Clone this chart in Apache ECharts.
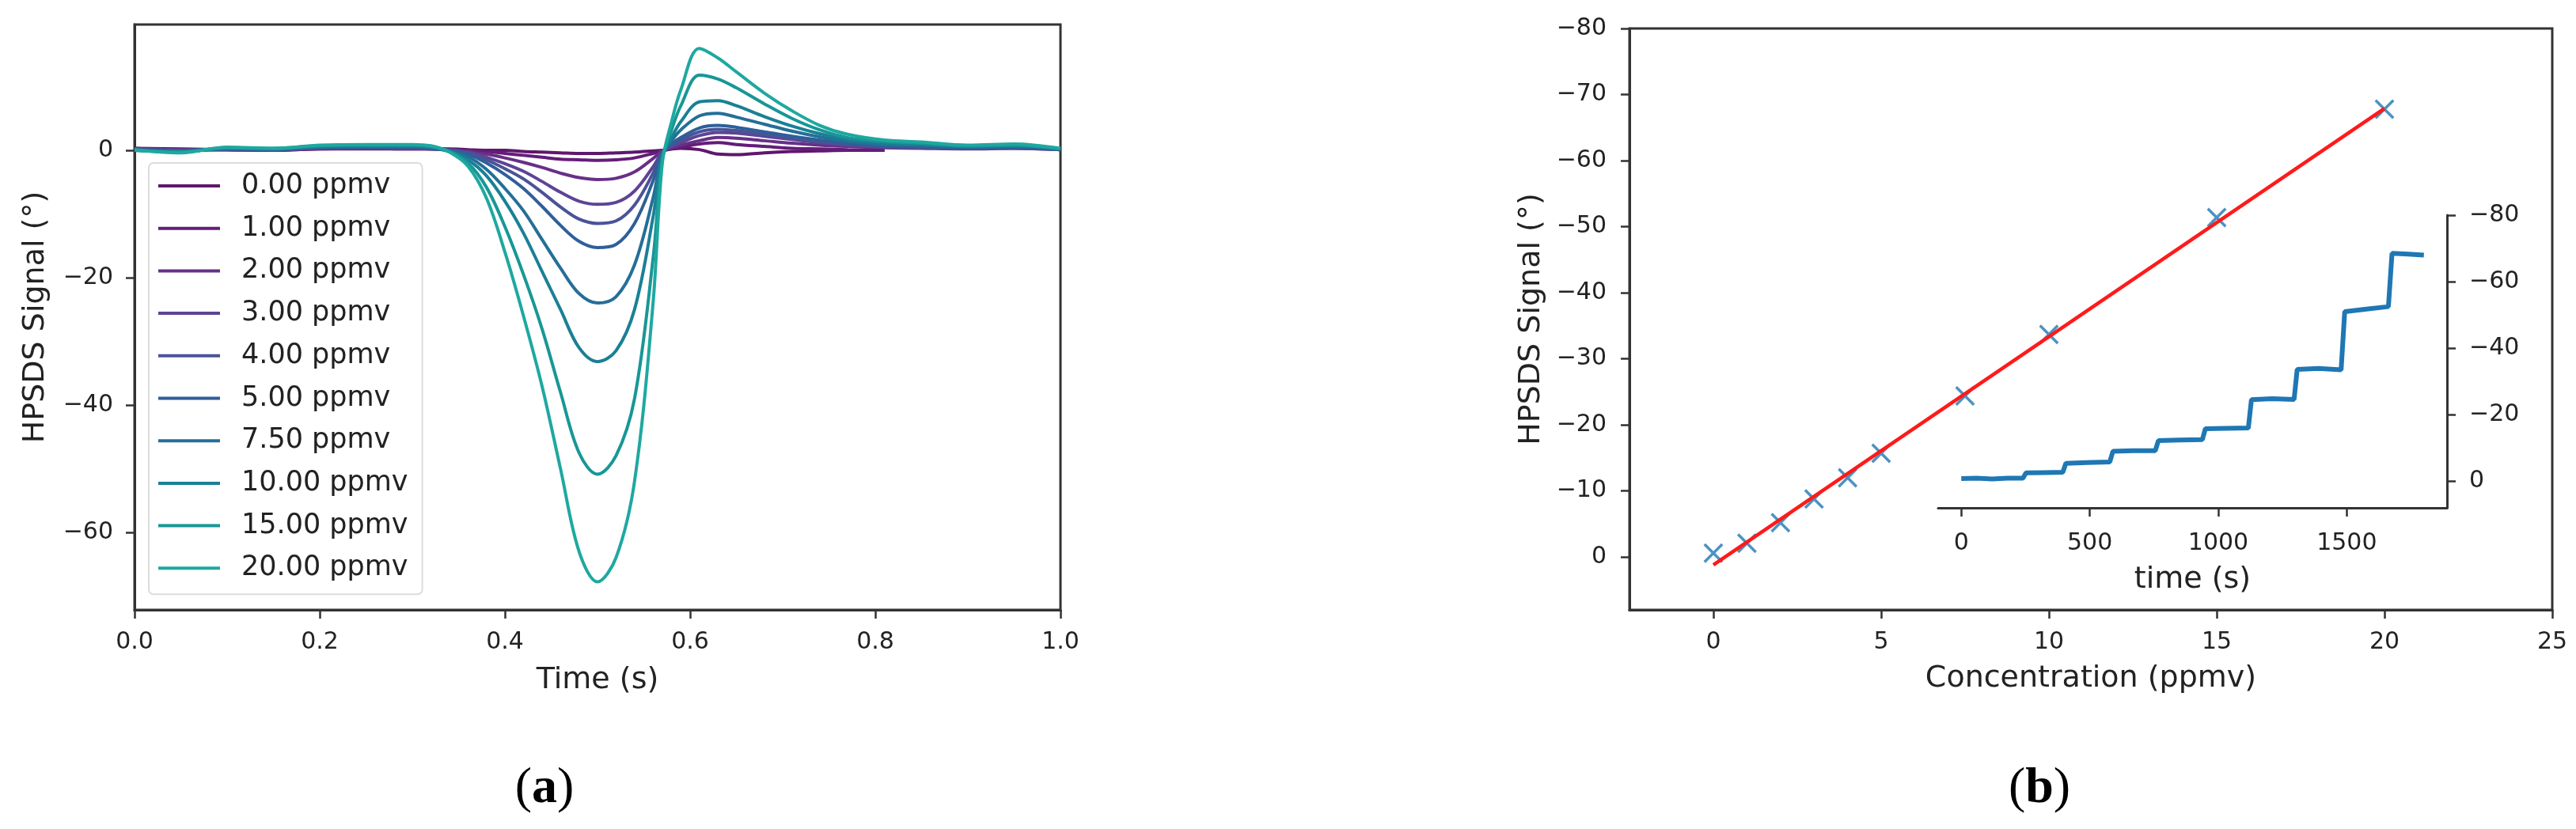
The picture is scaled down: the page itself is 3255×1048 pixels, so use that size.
<!DOCTYPE html>
<html>
<head>
<meta charset="utf-8">
<script src="https://cdn.jsdelivr.net/npm/echarts@6/dist/echarts.min.js"></script>
<style>
html,body{margin:0;padding:0;background:#fff;}
#c{width:3255px;height:1048px;}
</style>
</head>
<body>
<div id="c"></div>
<script>
// ---------- data: panel (a) ----------
const timeS = [0, 0.05, 0.1, 0.15, 0.2, 0.25, 0.3, 0.32, 0.34, 0.36, 0.38, 0.40, 0.42, 0.44, 0.46, 0.48, 0.50, 0.52, 0.54, 0.56, 0.57, 0.58, 0.59, 0.61, 0.63, 0.65, 0.68, 0.71, 0.74, 0.77, 0.81, 0.85, 0.9, 0.95, 1.0];
const seriesNames = ['0.00 ppmv','1.00 ppmv','2.00 ppmv','3.00 ppmv','4.00 ppmv','5.00 ppmv','7.50 ppmv','10.00 ppmv','15.00 ppmv','20.00 ppmv'];
const seriesColors = ['#5f176c','#641d78','#673087','#5d4495','#4a5398','#2f5f99','#246f98','#1a8095','#189796','#1ea8a0'];
const sig0  = [0.3, 0.2, 0.1, 0.0, 0.2, 0.2, 0.2, 0.2, 0.2, 0.1, 0, 0, -0.2, -0.3, -0.4, -0.5, -0.5, -0.4, -0.3, -0.1, 0, 0.2, 0.3, 0.1, -0.6, -0.7, -0.4, -0.2, -0.1, 0.0, 0.0, null, null, null, null];
const sig1  = [0.3, 0.1, 0.1, 0.0, 0.2, 0.3, 0.2, 0.2, 0.1, 0, -0.2, -0.5, -0.8, -1.1, -1.4, -1.5, -1.6, -1.5, -1.2, -0.5, -0.1, 0.2, 0.5, 1.0, 1.2, 0.9, 0.6, 0.3, 0.2, 0.1, 0.0, null, null, null, null];
const sig2  = [0.2, 0.1, 0.1, 0.0, 0.3, 0.3, 0.3, 0.2, 0.1, -0.2, -0.6, -1.2, -1.9, -2.7, -3.6, -4.3, -4.6, -4.4, -3.4, -1.3, -0.1, 0.4, 0.8, 1.5, 2.0, 1.9, 1.5, 1.1, 0.8, 0.6, 0.4, 0.3, 0.2, 0.3, 0.1];
const sig3  = [0.2, 0.0, 0.1, 0.1, 0.3, 0.4, 0.3, 0.2, 0, -0.3, -1.1, -2.1, -3.3, -4.9, -6.6, -8, -8.5, -8.2, -6.4, -2.6, -0.3, 0.6, 1.2, 2.3, 2.8, 2.7, 2.2, 1.7, 1.2, 0.8, 0.5, 0.4, 0.3, 0.3, 0.1];
const sig4  = [0.2, 0.0, 0.2, 0.1, 0.4, 0.4, 0.4, 0.3, 0, -0.4, -1.5, -2.9, -4.5, -6.6, -8.9, -10.8, -11.5, -11.1, -8.6, -3.6, -0.4, 0.8, 1.6, 2.9, 3.3, 3.1, 2.5, 1.9, 1.4, 1.0, 0.6, 0.5, 0.3, 0.4, 0.1];
const sig5  = [0.1, -0.1, 0.2, 0.2, 0.4, 0.5, 0.5, 0.3, 0, -0.6, -2, -3.8, -6, -8.8, -11.8, -14.3, -15.3, -14.8, -11.5, -4.8, -0.5, 1, 2, 3.5, 3.9, 3.6, 2.9, 2.2, 1.6, 1.1, 0.7, 0.6, 0.4, 0.5, 0.1];
const sig75 = [0.1, -0.2, 0.3, 0.2, 0.5, 0.6, 0.6, 0.4, -0.1, -1, -3, -6, -9.5, -14, -18.5, -22.5, -24, -23, -18, -7.5, -0.8, 1.5, 3.2, 5.4, 5.8, 5.2, 4.1, 3.0, 2.1, 1.4, 0.9, 0.8, 0.5, 0.6, 0.2];
const sig10 = [0.0, -0.2, 0.3, 0.2, 0.6, 0.7, 0.7, 0.5, -0.2, -1.5, -4, -8, -13, -19, -25, -31, -33.2, -31.5, -25, -10.5, -1, 2, 4.5, 7.6, 7.8, 7, 5.3, 3.8, 2.6, 1.7, 1.1, 0.9, 0.6, 0.7, 0.2];
const sig15 = [0.0, -0.3, 0.4, 0.3, 0.7, 0.8, 0.8, 0.6, -0.2, -2, -5.8, -12, -19.5, -28, -38, -47.5, -50.9, -48, -39, -17, -1.5, 3.2, 7, 11.8, 11.2, 9.8, 7.3, 5.0, 3.2, 2.0, 1.4, 1.1, 0.7, 0.8, 0.2];
const sig20 = [0.1, -0.4, 0.5, 0.3, 0.8, 0.9, 0.9, 0.7, -0.3, -2.5, -7.5, -16, -26, -37, -50, -63, -67.8, -64, -52, -24, -2, 4.5, 9.5, 16, 14.5, 12.3, 9.0, 6.2, 3.9, 2.5, 1.6, 1.3, 0.8, 1.0, 0.3];
const signals = [sig0, sig1, sig2, sig3, sig4, sig5, sig75, sig10, sig15, sig20];
const timeTicks = [0, 0.2, 0.4, 0.6, 0.8, 1.0];
const signalTicksA = [-60, -40, -20, 0];

// ---------- data: panel (b) ----------
const concentration = [0, 1, 2, 3, 4, 5, 7.5, 10, 15, 20];
const peakSignal = [-0.6, -2.1, -5.2, -8.8, -12.0, -15.7, -24.4, -33.7, -51.4, -67.8];
const fitConc = [0, 20];
const fitSignal = [1.2, -67.9];
const concTicks = [0, 5, 10, 15, 20, 25];
const signalTicksB = [-80, -70, -60, -50, -40, -30, -20, -10, 0];

// ---------- data: inset ----------
const stepTime = [0, 60, 120, 180, 240, 252, 320, 395, 407, 490, 578, 590, 670, 755, 767, 850, 938, 950, 1030, 1117, 1129, 1210, 1295, 1307, 1390, 1478, 1492, 1570, 1662, 1676, 1740, 1800];
const stepSignal = [-0.8, -0.9, -0.7, -0.9, -0.9, -2.5, -2.6, -2.7, -5.4, -5.6, -5.8, -9.0, -9.2, -9.2, -12.2, -12.4, -12.5, -15.8, -15.9, -16.0, -24.5, -24.8, -24.6, -33.6, -33.9, -33.5, -51.0, -51.7, -52.5, -68.5, -68.3, -68.0];
const insetTimeTicks = [0, 500, 1000, 1500];
const insetSignalTicks = [-80, -60, -40, -20, 0];

// ---------- chart ----------
const FONT = 'DejaVu Sans';
const TXT = '#222';
const AX = '#333';
const minus = v => (v < 0 ? '\u2212' + Math.abs(v) : String(v));

function axisCommon(extra) {
  return Object.assign({
    type: 'value',
    splitLine: { show: false },
    axisLine: { show: true, onZero: false, lineStyle: { color: AX, width: 3 } },
    axisTick: { show: true, inside: false, length: 11, lineStyle: { color: AX, width: 2.5 } },
    nameTextStyle: { fontFamily: FONT, fontSize: 38, color: TXT },
    nameLocation: 'middle'
  }, extra);
}
function labelStyle(margin, fmt, custom) {
  const o = { fontFamily: FONT, fontSize: 30, color: TXT, margin: margin, formatter: fmt };
  if (custom) o.customValues = custom;
  return o;
}

const series = [];
seriesNames.forEach((nm, i) => {
  series.push({
    name: nm, type: 'line', xAxisIndex: 0, yAxisIndex: 0,
    data: timeS.map((t, k) => [t, signals[i][k]]),
    symbol: 'none', smooth: 0.35, connectNulls: false,
    lineStyle: { width: 4, color: seriesColors[i] },
    itemStyle: { color: seriesColors[i] }
  });
});
series.push({
  name: 'fit', type: 'line', xAxisIndex: 1, yAxisIndex: 1,
  data: fitConc.map((c, k) => [c, fitSignal[k]]),
  symbol: 'none', lineStyle: { width: 4.5, color: '#ff1a1a' }, z: 3
});
series.push({
  name: 'measured', type: 'scatter', xAxisIndex: 1, yAxisIndex: 1,
  data: concentration.map((c, k) => [c, peakSignal[k]]),
  symbol: 'path://M0,1L1,0L5,4L9,0L10,1L6,5L10,9L9,10L5,6L1,10L0,9L4,5Z',
  symbolSize: 25, itemStyle: { color: '#1f77b4' }, z: 2
});
series.push({
  name: 'trace', type: 'line', xAxisIndex: 2, yAxisIndex: 2,
  data: stepTime.map((t, k) => [t, stepSignal[k]]),
  symbol: 'none', lineStyle: { width: 6, color: '#1f77b4' }
});

const option = {
  animation: false,
  backgroundColor: '#fff',
  grid: [
    { left: 170, top: 31, width: 1170, height: 740, show: true, borderColor: AX, borderWidth: 3, backgroundColor: 'transparent' },
    { left: 2059, top: 36, width: 1166, height: 735, show: true, borderColor: AX, borderWidth: 3, backgroundColor: 'transparent' },
    { left: 2449, top: 272, width: 643, height: 370, show: false }
  ],
  xAxis: [
    axisCommon({ gridIndex: 0, min: 0, max: 1, interval: 0.2, name: 'Time (s)', nameGap: 70,
      axisLabel: labelStyle(26, v => Number(v).toFixed(1)) }),
    axisCommon({ gridIndex: 1, min: -2.5, max: 25, name: 'Concentration (ppmv)', nameGap: 68,
      axisTick: { show: true, length: 11, lineStyle: { color: AX, width: 2.5 }, customValues: concTicks },
      axisLabel: labelStyle(26, v => String(v), concTicks) }),
    axisCommon({ gridIndex: 2, min: -90, max: 1890, name: 'time (s)', nameGap: 72,
      axisTick: { show: true, length: 11, lineStyle: { color: AX, width: 2.5 }, customValues: insetTimeTicks },
      axisLabel: labelStyle(30, v => String(v), insetTimeTicks) })
  ],
  yAxis: [
    axisCommon({ gridIndex: 0, min: -72.2, max: 19.75, name: 'HPSDS Signal (°)', nameGap: 106,
      axisTick: { show: true, length: 11, lineStyle: { color: AX, width: 2.5 }, customValues: signalTicksA },
      axisLabel: labelStyle(27, minus, signalTicksA) }),
    axisCommon({ gridIndex: 1, min: -80, max: 8, inverse: true, name: 'HPSDS Signal (°)', nameGap: 105,
      axisTick: { show: true, length: 11, lineStyle: { color: AX, width: 2.5 }, customValues: signalTicksB },
      axisLabel: labelStyle(29, minus, signalTicksB) }),
    axisCommon({ gridIndex: 2, min: -80, max: 8, inverse: true, position: 'right',
      axisTick: { show: true, length: 11, lineStyle: { color: AX, width: 2.5 }, customValues: insetSignalTicks },
      axisLabel: labelStyle(28, minus, insetSignalTicks) })
  ],
  legend: {
    orient: 'vertical', left: 188, top: 206,
    data: seriesNames,
    icon: 'rect',
    itemWidth: 78, itemHeight: 4, itemGap: 17.7,
    padding: [11, 18, 15, 12],
    backgroundColor: '#fff', borderColor: '#dcdcdc', borderWidth: 2, borderRadius: 6,
    textStyle: { fontFamily: FONT, fontSize: 35, color: TXT, lineHeight: 36, padding: [0, 0, 0, 22] },
    selectedMode: false
  },
  graphic: [
    { type: 'text', x: 688, y: 997, style: { text: '{n|(}{b|a}{n|)}', align: 'center', verticalAlign: 'middle',
      rich: { n: { fontFamily: 'Liberation Serif', fontSize: 64, fill: '#000' }, b: { fontFamily: 'Liberation Serif', fontWeight: 'bold', fontSize: 64, fill: '#000' } } } },
    { type: 'text', x: 2577, y: 997, style: { text: '{n|(}{b|b}{n|)}', align: 'center', verticalAlign: 'middle',
      rich: { n: { fontFamily: 'Liberation Serif', fontSize: 64, fill: '#000' }, b: { fontFamily: 'Liberation Serif', fontWeight: 'bold', fontSize: 64, fill: '#000' } } } }
  ],
  series: series
};

const chart = echarts.init(document.getElementById('c'), null, { renderer: 'canvas' });
chart.setOption(option);
</script>
</body>
</html>
